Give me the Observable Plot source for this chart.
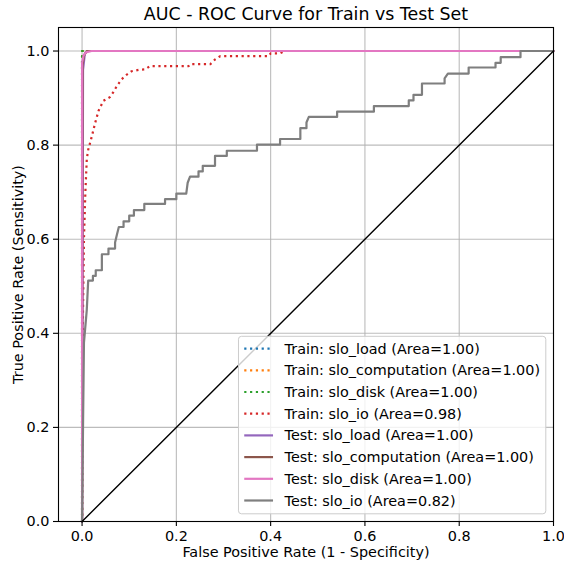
<!DOCTYPE html>
<html>
<head>
<meta charset="utf-8">
<script src="https://cdn.jsdelivr.net/npm/d3@7"></script>
<script src="https://cdn.jsdelivr.net/npm/@observablehq/plot@0.6"></script>
<style>
  body { margin: 0; background: #fff; }
  #chart svg { display: block; }
</style>
</head>
<body>
<div id="chart"></div>
<script>
// ROC curves (false positive rate, true positive rate) per SLO target
const seriesNames = ["slo_load", "slo_computation", "slo_disk", "slo_io"];
const trainAreas = [1.00, 1.00, 1.00, 0.98];
const testAreas = [1.00, 1.00, 1.00, 0.82];
const trainColors = ["#1f77b4", "#ff7f0e", "#2ca02c", "#d62728"];
const testColors = ["#9467bd", "#8c564b", "#e377c2", "#7f7f7f"];
const xTicks = [0, 0.2, 0.4, 0.6, 0.8, 1.0];
const yTicks = [0, 0.2, 0.4, 0.6, 0.8, 1.0];

const trainLoad = [[0, 0], [0, 1], [1, 1]];
const trainComputation = [[0, 0], [0, 1], [1, 1]];
const trainDisk = [[0, 0], [0, 1], [1, 1]];
const trainIo = [
  [0, 0], [0.001, 0.30], [0.002, 0.45], [0.004, 0.60], [0.007, 0.70], [0.010, 0.77],
  [0.013, 0.79], [0.020, 0.816], [0.028, 0.848], [0.035, 0.873], [0.045, 0.894],
  [0.059, 0.902], [0.066, 0.912], [0.074, 0.926], [0.084, 0.940], [0.095, 0.950],
  [0.105, 0.957], [0.120, 0.960], [0.134, 0.961], [0.144, 0.968], [0.226, 0.968],
  [0.229, 0.972], [0.272, 0.972], [0.282, 0.982], [0.293, 0.989], [0.396, 0.989],
  [0.400, 0.995], [0.420, 0.995], [0.430, 1.0], [1, 1]
];

const testLoad = [[0, 0], [0.002, 0.96], [0.006, 0.995], [0.012, 1], [1, 1]];
const testComputation = [[0, 0], [0.001, 0.97], [0.004, 0.99], [0.010, 1], [1, 1]];
const testDisk = [[0, 0], [0, 0.975], [0.003, 0.99], [0.008, 0.997], [0.020, 1], [1, 1]];
const testIo = [
  [0, 0], [0.002, 0.20], [0.004, 0.38], [0.010, 0.45], [0.013, 0.512], [0.023, 0.512],
  [0.023, 0.522], [0.029, 0.522], [0.029, 0.534], [0.042, 0.534], [0.042, 0.568],
  [0.056, 0.568], [0.056, 0.580], [0.070, 0.580], [0.070, 0.593], [0.074, 0.610],
  [0.078, 0.626], [0.088, 0.626], [0.088, 0.638], [0.100, 0.638], [0.100, 0.650],
  [0.110, 0.650], [0.110, 0.662], [0.132, 0.662], [0.132, 0.675], [0.176, 0.675],
  [0.176, 0.685], [0.200, 0.685], [0.200, 0.697], [0.221, 0.697], [0.224, 0.720],
  [0.229, 0.733], [0.247, 0.733], [0.247, 0.744], [0.256, 0.744], [0.256, 0.756],
  [0.282, 0.756], [0.282, 0.777], [0.307, 0.777], [0.307, 0.788], [0.371, 0.788],
  [0.371, 0.801], [0.420, 0.801], [0.420, 0.813], [0.463, 0.813], [0.463, 0.836],
  [0.476, 0.836], [0.476, 0.848], [0.481, 0.860], [0.541, 0.860], [0.541, 0.871],
  [0.619, 0.871], [0.619, 0.883], [0.693, 0.883], [0.693, 0.895], [0.703, 0.895],
  [0.703, 0.907], [0.721, 0.907], [0.721, 0.931], [0.769, 0.931], [0.769, 0.942],
  [0.776, 0.952], [0.820, 0.952], [0.820, 0.965], [0.877, 0.965], [0.877, 0.975],
  [0.888, 0.975], [0.888, 0.987], [0.930, 0.987], [0.930, 1.0], [1, 1]
];

const chance = [[0, 0], [1, 1]];

const trainCurves = [trainLoad, trainComputation, trainDisk, trainIo];
const testCurves = [testLoad, testComputation, testDisk, testIo];

const title = "AUC - ROC Curve for Train vs Test Set";
const xLabel = "False Positive Rate (1 - Specificity)";
const yLabel = "True Positive Rate (Sensitivity)";

// layout
const W = 564, H = 565;
const M = { top: 27, right: 11, bottom: 44, left: 58 };
const fontFamily = "'DejaVu Sans', sans-serif";
const fontSize = 14.4;
const dotted = "2.2,3.6";
const lineW = 2.2;

const fmt = d3.format(".1f");

const marks = [
  Plot.gridX(xTicks, { stroke: "#b0b0b0", strokeOpacity: 0.85, strokeWidth: 1.1 }),
  Plot.gridY(yTicks, { stroke: "#b0b0b0", strokeOpacity: 0.85, strokeWidth: 1.1 }),
  ...trainCurves.map((c, i) => Plot.line(c, {
    x: d => d[0], y: d => d[1], stroke: trainColors[i], strokeWidth: lineW,
    strokeDasharray: dotted, strokeLinecap: "butt"
  })),
  ...testCurves.map((c, i) => Plot.line(c, {
    x: d => d[0], y: d => d[1], stroke: testColors[i], strokeWidth: lineW
  })),
  Plot.line(chance, { x: d => d[0], y: d => d[1], stroke: "black", strokeWidth: 1.4 }),
  Plot.axisX(xTicks, { tickFormat: fmt, tickSize: 5, tickPadding: 4, label: null, strokeWidth: 1.1 }),
  Plot.axisY(yTicks, { tickFormat: fmt, tickSize: 5, tickPadding: 4, label: null, strokeWidth: 1.1 }),
  Plot.frame({ stroke: "black", strokeWidth: 1.1 }),
  Plot.text([xLabel], { text: d => d, frameAnchor: "bottom", lineAnchor: "middle", dy: 31, fontSize: fontSize }),
  Plot.text([yLabel], { text: d => d, frameAnchor: "left", dx: -40, rotate: -90, textAnchor: "middle", fontSize: fontSize }),
  Plot.text([title], { text: d => d, frameAnchor: "top", lineAnchor: "middle", dy: -13, fontSize: 17.4 })
];

const chart = Plot.plot({
  width: W,
  height: H,
  marginTop: M.top,
  marginRight: M.right,
  marginBottom: M.bottom,
  marginLeft: M.left,
  style: { fontFamily: fontFamily, fontSize: fontSize + "px", color: "black", background: "white", overflow: "visible" },
  x: { domain: [-0.05, 1.0] },
  y: { domain: [0, 1.05] },
  marks
});

document.getElementById("chart").appendChild(chart);

// legend in the lower-right corner of the axes
const entries = [
  ...seriesNames.map((n, i) => ({ label: `Train: ${n} (Area=${trainAreas[i].toFixed(2)})`, color: trainColors[i], dash: dotted })),
  ...seriesNames.map((n, i) => ({ label: `Test: ${n} (Area=${testAreas[i].toFixed(2)})`, color: testColors[i], dash: null }))
];

const em = fontSize;
const borderAxesPad = 0.5 * em;
const borderPad = 0.4 * em;
const handleLen = 2 * em;
const handleTextPad = 0.8 * em;
const rowH = 21.7;
const firstRow = 12.3;

const svg = d3.select(chart);
const g = svg.append("g")
  .attr("font-family", fontFamily)
  .attr("font-size", fontSize)
  .attr("text-anchor", "start");
const box = g.append("rect");
const rows = g.selectAll("g.row").data(entries).join("g").attr("class", "row");
rows.append("line")
  .attr("x1", borderPad).attr("x2", borderPad + handleLen)
  .attr("y1", (d, i) => firstRow + i * rowH).attr("y2", (d, i) => firstRow + i * rowH)
  .attr("stroke", d => d.color).attr("stroke-width", lineW)
  .attr("stroke-dasharray", d => d.dash);
const labels = rows.append("text")
  .attr("x", borderPad + handleLen + handleTextPad)
  .attr("y", (d, i) => firstRow + i * rowH)
  .attr("dy", "0.35em")
  .attr("text-anchor", "start")
  .attr("fill", "black")
  .text(d => d.label);

let maxW = 0;
labels.each(function () { maxW = Math.max(maxW, this.getComputedTextLength()); });
const boxW = borderPad + handleLen + handleTextPad + maxW + borderPad;
const boxH = firstRow * 2 + (entries.length - 1) * rowH + 1;
box.attr("width", boxW).attr("height", boxH).attr("rx", 3).attr("ry", 3)
  .attr("fill", "white").attr("fill-opacity", 0.8)
  .attr("stroke", "#cccccc").attr("stroke-width", 1);
const right = W - M.right - borderAxesPad;
const bottom = H - M.bottom - borderAxesPad;
g.attr("transform", `translate(${right - boxW},${bottom - boxH})`);
</script>
</body>
</html>
